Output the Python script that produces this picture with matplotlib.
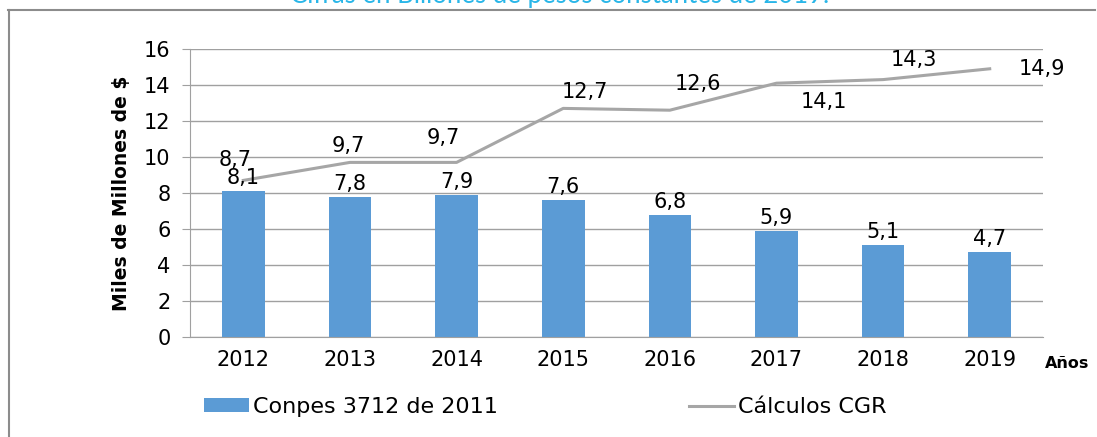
import matplotlib
matplotlib.use("Agg")
import matplotlib.pyplot as plt
from matplotlib.lines import Line2D

# datos
anios = ["2012", "2013", "2014", "2015", "2016", "2017", "2018", "2019"]
conpes = [8.1, 7.8, 7.9, 7.6, 6.8, 5.9, 5.1, 4.7]
cgr = [8.7, 9.7, 9.7, 12.7, 12.6, 14.1, 14.3, 14.9]
etq_conpes = ["8,1", "7,8", "7,9", "7,6", "6,8", "5,9", "5,1", "4,7"]
etq_cgr = ["8,7", "9,7", "9,7", "12,7", "12,6", "14,1", "14,3", "14,9"]
# desplazamiento (px) de las etiquetas de la linea
desp_cgr = [(-8, 20), (-2, 16), (-13, 24), (22, 16), (28, 26), (47, -19), (31, 20), (52, 0)]

plt.rcParams['font.family'] = ['DejaVu Sans']
gris = '#A0A0A0'
azul = '#5B9BD5'

fig = plt.figure(figsize=(10.97, 4.37), dpi=100)
ax = fig.add_axes([0.1732, 0.2288, 0.7776, 0.6591])

x = range(len(anios))
barras = ax.bar(x, conpes, width=0.4, color=azul, label='Conpes 3712 de 2011', zorder=2)
linea, = ax.plot(x, cgr, color='#A6A6A6', lw=2.2, label='Cálculos CGR', zorder=3)

for i, v in enumerate(conpes):
    ax.annotate(etq_conpes[i], (i, v), xytext=(0, 3), textcoords='offset pixels',
                ha='center', va='bottom', fontsize=15, zorder=4)
for i, v in enumerate(cgr):
    dx, dy = desp_cgr[i]
    ax.annotate(etq_cgr[i], (i, v), xytext=(dx, dy), textcoords='offset pixels',
                ha='center', va='center', fontsize=15, zorder=4)

ax.set_xlim(-0.5, 7.5)
ax.set_ylim(0, 16)
ax.set_yticks(range(0, 17, 2))
ax.set_xticks(list(x))
ax.set_xticklabels(anios, fontsize=15)
ax.tick_params(axis='y', labelsize=15, length=6, color=gris, pad=8)
ax.tick_params(axis='x', length=0, pad=9)
ax.grid(axis='y', color=gris, lw=1, zorder=0)
for s in ['top', 'right']:
    ax.spines[s].set_visible(False)
for s in ['left', 'bottom']:
    ax.spines[s].set_color(gris)
ax.set_axisbelow(True)

ax.set_ylabel('Miles de Millones de $', fontsize=13.5, fontweight='bold', labelpad=9)
fig.text(1045 / 1097, 1 - 363 / 437, 'Años', fontsize=11.5, fontweight='bold',
         ha='left', va='center')

leg = fig.legend(handles=[barras, linea], loc='center left', ncol=2,
                 bbox_to_anchor=(0.168, 1 - 407 / 437), frameon=False,
                 fontsize=16, handlelength=2.0, handleheight=0.6,
                 columnspacing=8.6, handletextpad=0.2)

# titulo recortado arriba
fig.text(0.51, 1 - 3 / 437, 'Cifras en Billones de pesos constantes de 2019.',
         fontsize=18.5, color='#29B6E8', ha='center', va='baseline', family='Lato')

# marco
fig.add_artist(Line2D([8 / 1097, 1095 / 1097], [1 - 10 / 437] * 2,
                      transform=fig.transFigure, color='#8C8C8C', lw=1.5))
fig.add_artist(Line2D([9 / 1097] * 2, [1 - 10 / 437, 0],
                      transform=fig.transFigure, color='#8C8C8C', lw=1.5))

fig.savefig('out.png', dpi=100)
